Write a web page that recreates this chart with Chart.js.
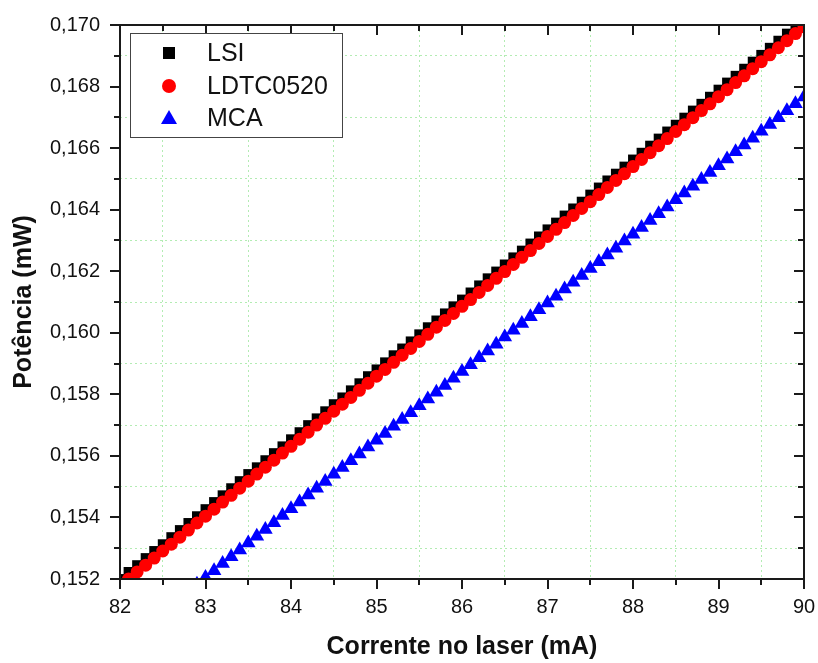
<!DOCTYPE html>
<html lang="pt">
<head>
<meta charset="utf-8">
<title>Potência x Corrente</title>
<script src="https://cdn.jsdelivr.net/npm/chart.js@4.4.1/dist/chart.umd.min.js"></script>
<style>
    html, body { margin: 0; padding: 0; background: #fff; }
    #grafico { display: block; }
</style>
</head>
<body>
<canvas id="grafico" width="818" height="663"></canvas>
<script>
// Corrente no laser (mA)
const correnteMA = [
    82.0, 82.1, 82.2, 82.3, 82.4, 82.5, 82.6, 82.7, 82.8, 82.9,
    83.0, 83.1, 83.2, 83.3, 83.4, 83.5, 83.6, 83.7, 83.8, 83.9,
    84.0, 84.1, 84.2, 84.3, 84.4, 84.5, 84.6, 84.7, 84.8, 84.9,
    85.0, 85.1, 85.2, 85.3, 85.4, 85.5, 85.6, 85.7, 85.8, 85.9,
    86.0, 86.1, 86.2, 86.3, 86.4, 86.5, 86.6, 86.7, 86.8, 86.9,
    87.0, 87.1, 87.2, 87.3, 87.4, 87.5, 87.6, 87.7, 87.8, 87.9,
    88.0, 88.1, 88.2, 88.3, 88.4, 88.5, 88.6, 88.7, 88.8, 88.9,
    89.0, 89.1, 89.2, 89.3, 89.4, 89.5, 89.6, 89.7, 89.8, 89.9,
    90.0
];

// Potência (mW) - LSI
const potLSI = [
    0.15200, 0.15223, 0.15245, 0.15268, 0.15291, 0.15313, 0.15336, 0.15359, 0.15382, 0.15404,
    0.15427, 0.15450, 0.15472, 0.15495, 0.15518, 0.15541, 0.15563, 0.15586, 0.15609, 0.15631,
    0.15654, 0.15677, 0.15700, 0.15722, 0.15745, 0.15768, 0.15790, 0.15813, 0.15836, 0.15859,
    0.15881, 0.15904, 0.15927, 0.15949, 0.15972, 0.15995, 0.16018, 0.16040, 0.16063, 0.16086,
    0.16108, 0.16131, 0.16154, 0.16177, 0.16199, 0.16222, 0.16245, 0.16267, 0.16290, 0.16313,
    0.16336, 0.16358, 0.16381, 0.16404, 0.16426, 0.16449, 0.16472, 0.16495, 0.16517, 0.16540,
    0.16563, 0.16585, 0.16608, 0.16631, 0.16654, 0.16676, 0.16699, 0.16722, 0.16744, 0.16767,
    0.16790, 0.16813, 0.16835, 0.16858, 0.16881, 0.16903, 0.16926, 0.16949, 0.16972, 0.16994,
    0.17017
];

// Potência (mW) - LDTC0520
const potLDTC = [
    0.15177, 0.15200, 0.15223, 0.15245, 0.15268, 0.15291, 0.15313, 0.15336, 0.15359, 0.15382,
    0.15404, 0.15427, 0.15450, 0.15472, 0.15495, 0.15518, 0.15541, 0.15563, 0.15586, 0.15609,
    0.15631, 0.15654, 0.15677, 0.15700, 0.15722, 0.15745, 0.15768, 0.15790, 0.15813, 0.15836,
    0.15859, 0.15881, 0.15904, 0.15927, 0.15949, 0.15972, 0.15995, 0.16018, 0.16040, 0.16063,
    0.16086, 0.16108, 0.16131, 0.16154, 0.16177, 0.16199, 0.16222, 0.16245, 0.16267, 0.16290,
    0.16313, 0.16336, 0.16358, 0.16381, 0.16404, 0.16426, 0.16449, 0.16472, 0.16495, 0.16517,
    0.16540, 0.16563, 0.16585, 0.16608, 0.16631, 0.16654, 0.16676, 0.16699, 0.16722, 0.16744,
    0.16767, 0.16790, 0.16813, 0.16835, 0.16858, 0.16881, 0.16903, 0.16926, 0.16949, 0.16972,
    0.16994
];

// Potência (mW) - MCA
const potMCA = [
    0.14982, 0.15004, 0.15027, 0.15049, 0.15071, 0.15094, 0.15116, 0.15138, 0.15160, 0.15183,
    0.15205, 0.15227, 0.15250, 0.15272, 0.15294, 0.15317, 0.15339, 0.15361, 0.15383, 0.15406,
    0.15428, 0.15450, 0.15473, 0.15495, 0.15517, 0.15540, 0.15562, 0.15584, 0.15606, 0.15629,
    0.15651, 0.15673, 0.15696, 0.15718, 0.15740, 0.15763, 0.15785, 0.15807, 0.15829, 0.15852,
    0.15874, 0.15896, 0.15919, 0.15941, 0.15963, 0.15986, 0.16008, 0.16030, 0.16052, 0.16075,
    0.16097, 0.16119, 0.16142, 0.16164, 0.16186, 0.16209, 0.16231, 0.16253, 0.16275, 0.16298,
    0.16320, 0.16342, 0.16365, 0.16387, 0.16409, 0.16432, 0.16454, 0.16476, 0.16498, 0.16521,
    0.16543, 0.16565, 0.16588, 0.16610, 0.16632, 0.16655, 0.16677, 0.16699, 0.16721, 0.16744,
    0.16766
];

const nomesSeries = ['LSI', 'LDTC0520', 'MCA'];
const coresSeries = ['#000000', '#ff0000', '#0000ff'];

const FONTE = "'Liberation Sans', Arial, sans-serif";
const COR_GRADE = '#b3ecb3';

const pontos = (ys) => correnteMA.map((x, i) => ({ x: x, y: ys[i] }));

// Ticks maiores: inteiros em x, milésimos pares em y
const xMaior = (v) => Math.round(v * 2) % 2 === 0;
const yMaior = (v) => Math.round(v * 1000) % 2 === 0;

// Eixos em caixa com ticks (para fora em baixo/esquerda, para dentro em cima/direita)
const eixosPlugin = {
    id: 'eixos',
    afterDatasetsDraw(chart) {
        const { ctx, chartArea: a, scales: { x, y } } = chart;
        ctx.save();
        ctx.strokeStyle = '#1a1a1a';
        ctx.lineWidth = 2;
        ctx.strokeRect(a.left, a.top, a.right - a.left, a.bottom - a.top);
        ctx.beginPath();
        x.ticks.forEach(t => {
            const px = Math.round(x.getPixelForValue(t.value));
            const len = xMaior(t.value) ? 10 : 6;
            ctx.moveTo(px, a.bottom);
            ctx.lineTo(px, a.bottom + len);
            ctx.moveTo(px, a.top);
            ctx.lineTo(px, a.top + len);
        });
        y.ticks.forEach(t => {
            const py = Math.round(y.getPixelForValue(t.value));
            const len = yMaior(t.value) ? 10 : 6;
            ctx.moveTo(a.left, py);
            ctx.lineTo(a.left - len, py);
            ctx.moveTo(a.right, py);
            ctx.lineTo(a.right - len, py);
        });
        ctx.stroke();
        ctx.restore();
    }
};

// Legenda dentro da área do gráfico, com moldura
const legendaPlugin = {
    id: 'legendaCaixa',
    afterDraw(chart) {
        const { ctx } = chart;
        const caixa = { x: 130, y: 33, w: 212, h: 104 };
        const linhas = [53, 86, 118];
        const mx = 169;
        ctx.save();
        ctx.fillStyle = '#fff';
        ctx.fillRect(caixa.x, caixa.y, caixa.w, caixa.h);
        ctx.strokeStyle = '#444';
        ctx.lineWidth = 1;
        ctx.strokeRect(caixa.x + 0.5, caixa.y + 0.5, caixa.w, caixa.h);

        // marcadores
        ctx.fillStyle = coresSeries[0];
        ctx.fillRect(mx - 6, linhas[0] - 6, 12, 12);
        ctx.fillStyle = coresSeries[1];
        ctx.beginPath();
        ctx.arc(mx, linhas[1], 7, 0, Math.PI * 2);
        ctx.fill();
        ctx.fillStyle = coresSeries[2];
        ctx.beginPath();
        ctx.moveTo(mx, linhas[2] - 8);
        ctx.lineTo(mx + 8, linhas[2] + 6);
        ctx.lineTo(mx - 8, linhas[2] + 6);
        ctx.closePath();
        ctx.fill();

        ctx.fillStyle = '#111';
        ctx.font = '25px ' + FONTE;
        ctx.textBaseline = 'middle';
        ctx.textAlign = 'left';
        nomesSeries.forEach((nome, i) => ctx.fillText(nome, 207, linhas[i] + 1));
        ctx.restore();
    }
};

new Chart(document.getElementById('grafico'), {
    type: 'scatter',
    data: {
        datasets: [{
            label: nomesSeries[0],
            data: pontos(potLSI),
            pointStyle: 'rect',
            pointRadius: 7,
            pointBorderWidth: 0,
            backgroundColor: coresSeries[0],
            borderColor: coresSeries[0],
            order: 1
        }, {
            label: nomesSeries[1],
            data: pontos(potLDTC),
            pointStyle: 'circle',
            pointRadius: 6.5,
            pointBorderWidth: 0,
            backgroundColor: coresSeries[1],
            borderColor: coresSeries[1],
            order: 0
        }, {
            label: nomesSeries[2],
            data: pontos(potMCA),
            pointStyle: 'triangle',
            pointRadius: 8.5,
            pointBorderWidth: 0,
            backgroundColor: coresSeries[2],
            borderColor: coresSeries[2],
            order: 2
        }]
    },
    options: {
        responsive: false,
        animation: false,
        layout: { padding: { top: 25, right: 14, left: 0, bottom: 0 } },
        plugins: {
            legend: { display: false },
            tooltip: { enabled: false }
        },
        scales: {
            x: {
                type: 'linear',
                min: 82,
                max: 90,
                afterFit: (scale) => {
                    scale.height = 84;
                    scale.paddingLeft = 0;
                    scale.paddingRight = 0;
                },
                ticks: {
                    stepSize: 0.5,
                    autoSkip: false,
                    maxRotation: 0,
                    padding: 16,
                    color: '#111',
                    font: { family: FONTE, size: 20 },
                    callback: (v) => xMaior(v) ? String(Math.round(v)) : ''
                },
                grid: {
                    drawTicks: false,
                    lineWidth: 1,
                    color: (c) => (c.tick && !xMaior(c.tick.value)) ? COR_GRADE : 'rgba(0,0,0,0)'
                },
                border: { display: false, dash: [2, 3] },
                title: {
                    display: true,
                    text: 'Corrente no laser (mA)',
                    color: '#111',
                    font: { family: FONTE, size: 25, weight: 'bold' },
                    padding: { top: 0, bottom: 1 }
                }
            },
            y: {
                type: 'linear',
                min: 0.152,
                max: 0.170,
                afterFit: (scale) => {
                    scale.width = 120;
                    scale.paddingTop = 0;
                    scale.paddingBottom = 0;
                },
                ticks: {
                    stepSize: 0.001,
                    autoSkip: false,
                    padding: 20,
                    color: '#111',
                    font: { family: FONTE, size: 20 },
                    callback: (v) => yMaior(v) ? v.toFixed(3).replace('.', ',') : ''
                },
                grid: {
                    drawTicks: false,
                    lineWidth: 1,
                    color: (c) => (c.tick && !yMaior(c.tick.value)) ? COR_GRADE : 'rgba(0,0,0,0)'
                },
                border: { display: false, dash: [2, 3] },
                title: {
                    display: true,
                    text: 'Potência (mW)',
                    color: '#111',
                    font: { family: FONTE, size: 25, weight: 'bold' },
                    padding: { top: 9, bottom: 0 }
                }
            }
        }
    },
    plugins: [eixosPlugin, legendaPlugin]
});
</script>
</body>
</html>
